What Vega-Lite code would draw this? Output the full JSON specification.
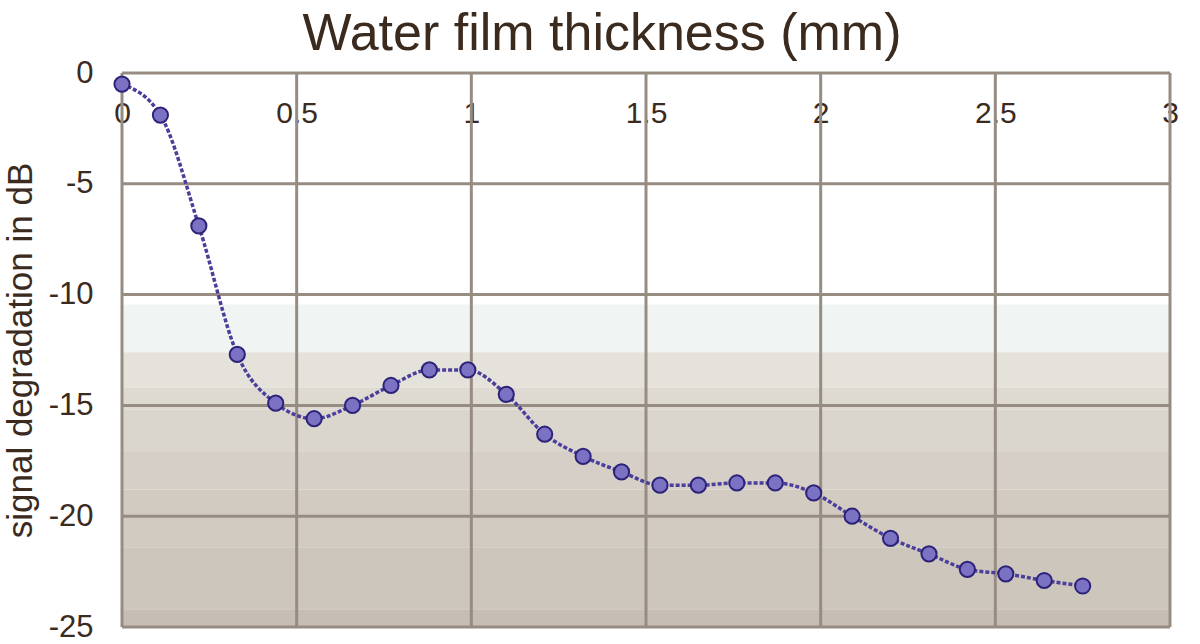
{
  "$schema": "https://vega.github.io/schema/vega-lite/v6.json",
  "width": 1048,
  "height": 554,
  "autosize": "none",
  "padding": {"left": 122, "top": 73, "right": 30, "bottom": 17},
  "background": "white",
  "title": {
    "text": "Water film thickness (mm)",
    "font": "Liberation Sans",
    "fontSize": 52,
    "fontWeight": "normal",
    "color": "#3b2a1e",
    "anchor": "middle",
    "frame": "group",
    "dx": -44,
    "offset": -4
  },
  "config": {"view": {"stroke": null}},
  "datasets": {
    "bands": [
      {"lo": -10.45, "hi": -12.6, "band": "b1"},
      {"lo": -12.6, "hi": -14.2, "band": "b2"},
      {"lo": -14.2, "hi": -15.2, "band": "b3"},
      {"lo": -15.2, "hi": -17.1, "band": "b4"},
      {"lo": -17.1, "hi": -18.8, "band": "b5"},
      {"lo": -18.8, "hi": -21.4, "band": "b6"},
      {"lo": -21.4, "hi": -24.2, "band": "b7"},
      {"lo": -24.2, "hi": -25, "band": "b8"}
    ],
    "xgrid": [{"g": 0}, {"g": 0.5}, {"g": 1}, {"g": 1.5}, {"g": 2}, {"g": 2.5}, {"g": 3}],
    "ygrid": [{"g": 0}, {"g": -5}, {"g": -10}, {"g": -15}, {"g": -20}, {"g": -25}],
    "points": [
      {"thickness": 0, "dB": -0.5},
      {"thickness": 0.11, "dB": -1.9},
      {"thickness": 0.22, "dB": -6.9},
      {"thickness": 0.33, "dB": -12.7},
      {"thickness": 0.44, "dB": -14.9},
      {"thickness": 0.55, "dB": -15.6},
      {"thickness": 0.66, "dB": -15.0},
      {"thickness": 0.77, "dB": -14.1},
      {"thickness": 0.88, "dB": -13.4},
      {"thickness": 0.99, "dB": -13.4},
      {"thickness": 1.10, "dB": -14.5},
      {"thickness": 1.21, "dB": -16.3},
      {"thickness": 1.32, "dB": -17.3},
      {"thickness": 1.43, "dB": -18.0},
      {"thickness": 1.54, "dB": -18.6},
      {"thickness": 1.65, "dB": -18.6},
      {"thickness": 1.76, "dB": -18.5},
      {"thickness": 1.87, "dB": -18.5},
      {"thickness": 1.98, "dB": -18.95},
      {"thickness": 2.09, "dB": -20.0},
      {"thickness": 2.20, "dB": -21.0},
      {"thickness": 2.31, "dB": -21.7},
      {"thickness": 2.42, "dB": -22.4},
      {"thickness": 2.53, "dB": -22.6},
      {"thickness": 2.64, "dB": -22.9},
      {"thickness": 2.75, "dB": -23.15}
    ]
  },
  "layer": [
    {
      "data": {"name": "bands"},
      "mark": {"type": "rect"},
      "encoding": {
        "x": {"datum": 0, "type": "quantitative", "scale": {"domain": [0, 3], "nice": false, "zero": false},
          "axis": {
            "orient": "bottom", "offset": -554, "values": [0, 0.5, 1, 1.5, 2, 2.5, 3], "labelExpr": "'' + datum.value",
            "domain": false, "ticks": false, "grid": false, "title": null,
            "labelFont": "Liberation Sans", "labelFontSize": 30, "labelColor": "#3b2a1e",
            "labelPadding": 25, "labelFlush": false, "labelOverlap": false
          }},
        "x2": {"datum": 3},
        "y": {"field": "lo", "type": "quantitative", "scale": {"domain": [-25, 0], "nice": false, "zero": false},
          "axis": {
            "values": [0, -5, -10, -15, -20, -25], "labelExpr": "'' + datum.value",
            "domain": false, "ticks": false, "grid": false,
            "title": "signal degradation in dB",
            "titleFont": "Liberation Sans", "titleFontSize": 35, "titleFontWeight": "normal", "titleColor": "#3b2a1e",
            "titlePadding": 10,
            "labelFont": "Liberation Sans", "labelFontSize": 31, "labelColor": "#3b2a1e",
            "labelPadding": 29, "labelFlush": false, "labelOverlap": false
          }},
        "y2": {"field": "hi"},
        "color": {"field": "band", "type": "nominal", "legend": null,
          "scale": {"domain": ["b1", "b2", "b3", "b4", "b5", "b6", "b7", "b8"],
            "range": ["#f0f5f3", "#e4e2db", "#dedad2", "#dad5cd", "#d5cfc7", "#d2cbc2", "#cdc6bc", "#c6beb4"]}}
      }
    },
    {
      "data": {"name": "xgrid"},
      "mark": {"type": "rule", "color": "#978c82", "strokeWidth": 3},
      "encoding": {"x": {"field": "g", "type": "quantitative"}}
    },
    {
      "data": {"name": "ygrid"},
      "mark": {"type": "rule", "color": "#978c82", "strokeWidth": 3},
      "encoding": {"y": {"field": "g", "type": "quantitative"}}
    },
    {
      "data": {"name": "points"},
      "mark": {"type": "line", "color": "#4b3f9b", "strokeWidth": 3.5, "strokeDash": [4, 2], "interpolate": "monotone"},
      "encoding": {
        "x": {"field": "thickness", "type": "quantitative"},
        "y": {"field": "dB", "type": "quantitative"}
      }
    },
    {
      "data": {"name": "points"},
      "mark": {"type": "point", "shape": "circle", "filled": true, "fill": "#7b72c4", "stroke": "#2c2378", "strokeWidth": 2, "size": 230, "opacity": 1},
      "encoding": {
        "x": {"field": "thickness", "type": "quantitative"},
        "y": {"field": "dB", "type": "quantitative"}
      }
    }
  ]
}
